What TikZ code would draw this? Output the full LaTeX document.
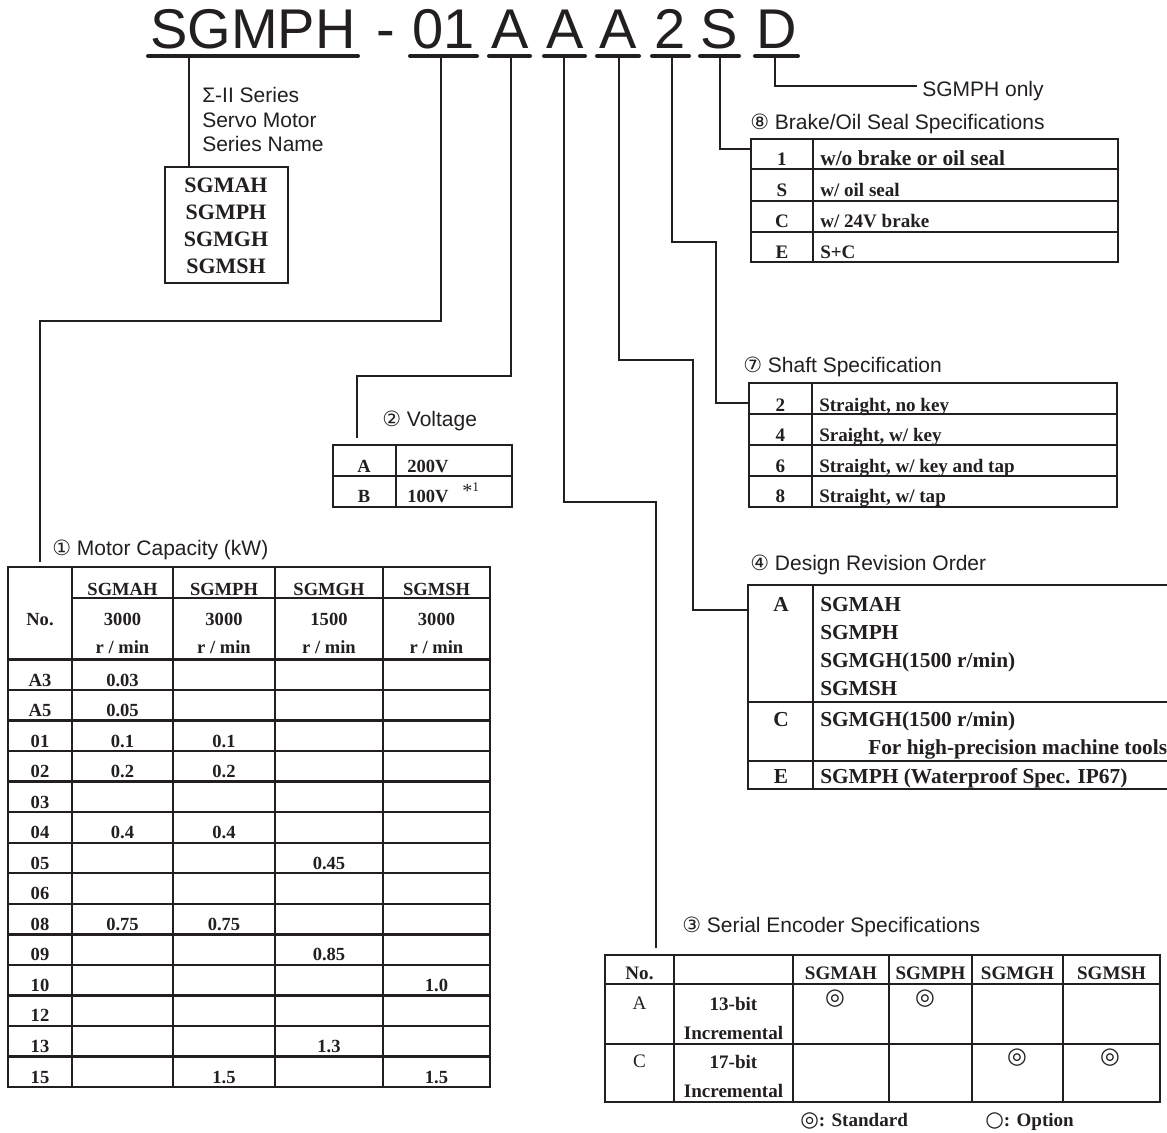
\documentclass[tikz,border=0pt]{standalone}
\usepackage{fontspec}
\setmainfont{Liberation Serif}
\newfontfamily\sansf{Liberation Sans}
\newfontfamily\symf{DejaVu Sans}
\definecolor{ink}{RGB}{35,31,32}
\begin{document}
\begin{tikzpicture}[x=0.75pt, y=-0.75pt, color=ink,
  tab/.style={line width=1.8pt},
  conn/.style={line width=0.9pt},
  bar/.style={line width=3pt, line cap=round},
  ttl/.style={anchor=west, inner sep=0pt, font=\sansf\fontsize{15.75}{18}\selectfont},
  cell/.style={anchor=base, inner sep=0pt, font=\bfseries\fontsize{13.9}{16}\selectfont},
  cellw/.style={cell, anchor=base west}]
\fill[white] (0,0) rectangle (1167,1132);
\useasboundingbox (0,0) rectangle (1167,1132);

% model code
\foreach \t/\x [count=\i] in {SGMPH/253, -/386, 01/444, A/510, A/565, A/618, 2/670, S/719, D/777}
  \node[anchor=base, inner sep=0pt, font=\sansf\fontsize{42}{42}\selectfont] (code\i) at (\x,48) {\t};
\foreach \a/\b in {148/358, 410/477, 489/530, 544/585, 597/639, 652/689, 700/739, 755/798}
  \draw[bar] (\a,56) -- (\b,56);
\foreach \n/\x in {ser/189, cap/441, vol/511, enc/564, rev/619, sha/672, brk/720, opt/775}
  \coordinate (k\n) at (\x,56);

% series name
\foreach \t [count=\i] in {Σ-II Series, Servo Motor, Series Name}
  \node[ttl, anchor=base west] (sl\i) at (202,{78+24.5*\i}) {\t};
\coordinate (sbox) at (189,167);
\draw[conn] (kser) -- (sbox);
\draw[tab] (165,167) rectangle (288,283);
\foreach \t [count=\i] in {SGMAH,SGMPH,SGMGH,SGMSH}
  \node[cell, font=\bfseries\fontsize{16.5}{18}\selectfont] (sb\i) at (226,{165+27*\i}) {\t};

% 1 motor capacity
\coordinate (mcap) at (40,562);
\draw[conn] (kcap) -- ++(0,265) -| (mcap);
\node[ttl] (mttl) at (52,550) {{\symf ①} Motor Capacity (kW)};
\draw[tab] (8,567) rectangle (490,1087);
\foreach \x in {72,173,275,383} \draw[tab] (\x,567) -- (\x,1087);
\draw[tab] (72,598) -- (490,598);
\foreach \k in {0,...,13} \draw[tab] (8,{659.5+30.54*\k}) -- (490,{659.5+30.54*\k});
\node[cell] (mno) at (40,625) {No.};
\foreach \t/\v/\x [count=\i] in {SGMAH/3000/122.5, SGMPH/3000/224, SGMGH/1500/329, SGMSH/3000/436.5}{
  \node[cell] (mh\i) at (\x,595) {\t};
  \node[cell] (ms\i) at (\x,625) {\v};
  \node[cell] (mu\i) at (\x,653) {r / min};
}
\foreach \t [count=\i] in {A3,A5,01,02,03,04,05,06,08,09,10,12,13,15}
  \node[cell] (mr\i) at (40,{655.5+30.54*\i}) {\t};
\foreach \c/\i/\v in {1/1/0.03, 1/2/0.05, 1/3/0.1, 2/3/0.1, 1/4/0.2, 2/4/0.2, 1/6/0.4, 2/6/0.4,
    3/7/0.45, 1/9/0.75, 2/9/0.75, 3/10/0.85, 4/11/1.0, 3/13/1.3, 2/14/1.5, 4/14/1.5}{
  \pgfmathsetmacro\x{{122.5,224,329,436.5}[\c-1]}
  \node[cell] (mv\c-\i) at (\x,{655.5+30.54*\i}) {\v};
}

% 2 voltage
\coordinate (vol) at (357,438);
\draw[conn] (kvol) -- ++(0,320) -| (vol);
\node[ttl] (vttl) at (382,421) {{\symf ②} Voltage};
\draw[tab] (333,445) rectangle (512,507);
\draw[tab] (333,476) -- (512,476) (396,445) -- (396,507);
\node[cell] (va) at (364,472) {A};
\node[cellw] (vaa) at (407,472) {200V};
\node[cell] (vb) at (364,502) {B};
\node[cellw] (vbb) at (407,502) {100V};
\node[anchor=base west, inner sep=0pt] (vnote) at (462,497)
  {{\fontsize{15}{15}\selectfont *}{\fontsize{10}{10}\selectfont\raisebox{4pt}{1}}};

% 3 serial encoder
\coordinate (enc) at (656,948);
\draw[conn] (kenc) -- ++(0,446) -| (enc);
\node[ttl] (ettl) at (682,927) {{\symf ③} Serial Encoder Specifications};
\draw[tab] (605,955) rectangle (1160,1102);
\foreach \x in {674,793,889,972,1063} \draw[tab] (\x,955) -- (\x,1102);
\draw[tab] (605,984) -- (1160,984) (605,1044) -- (1160,1044);
\foreach \t/\x [count=\i] in {No./639.5, SGMAH/841, SGMPH/930.5, SGMGH/1017.5, SGMSH/1111.5}
  \node[cell, font=\bfseries\fontsize{14.3}{16}\selectfont] (eh\i) at (\x,979) {\t};
\foreach \k/\b/\y [count=\i] in {A/13/1009, C/17/1067}{
  \node[cell, font=\fontsize{14.3}{16}\selectfont] (ek\i) at (639.5,\y) {\k};
  \node[cell, font=\bfseries\fontsize{14.3}{16}\selectfont] (eb\i) at (733.5,\y+1) {\b-bit};
  \node[cell, font=\bfseries\fontsize{14.3}{16}\selectfont] (ei\i) at (733.5,\y+30) {Incremental};
}
\foreach \x/\y [count=\i] in {835/999, 925/999, 1017/1058, 1110/1058}
  \node[inner sep=0pt, font=\symf\fontsize{17}{17}\selectfont] (es\i) at (\x,\y) {◎};
\node[anchor=base west, inner sep=0pt] (lstd) at (800,1126)
  {{\symf\fontsize{16}{16}\selectfont ◎}\textbf{\fontsize{14.3}{16}\selectfont : Standard}};
\node[anchor=base west, inner sep=0pt] (lopt) at (985,1126)
  {{\symf\fontsize{16}{16}\selectfont ○}\textbf{\fontsize{14.3}{16}\selectfont : Option}};

% 4 design revision
\coordinate (rev) at (748,610);
\draw[conn] (krev) |- (693,360) |- (rev);
\node[ttl] (rttl) at (750,565) {{\symf ④} Design Revision Order};
\draw[tab] (1180,585) -- (748,585) -- (748,789) -- (1180,789);
\draw[tab] (748,702) -- (1180,702) (748,761) -- (1180,761) (813,585) -- (813,789);
\tikzset{cell/.append style={font=\bfseries\fontsize{16}{18}\selectfont}}
\node[cell] (ra) at (781,611) {A};
\foreach \t [count=\i] in {SGMAH,SGMPH,SGMGH(1500 r/min),SGMSH}
  \node[cellw] (ra\i) at (820,{583+28*\i}) {\t};
\node[cell] (rc) at (781,726) {C};
\node[cellw] (rc1) at (820,726) {SGMGH(1500 r/min)};
\node[cellw] (rc2) at (868,754) {For high-precision machine tools};
\node[cell] (re) at (781,783) {E};
\node[cellw] (re1) at (820,783) {SGMPH (Waterproof Spec. IP67)};

% 7 shaft
\coordinate (sha) at (749,403);
\draw[conn] (ksha) |- (716,242) |- (sha);
\node[ttl] (httl) at (743,367) {{\symf ⑦} Shaft Specification};
\draw[tab] (749,383) rectangle (1117,507);
\foreach \y in {414,445,476} \draw[tab] (749,\y) -- (1117,\y);
\draw[tab] (812,383) -- (812,507);
\tikzset{cell/.append style={font=\bfseries\fontsize{14.3}{16}\selectfont}}
\foreach \k [count=\i] in {2,4,6,8}
  \node[cell] (hk\i) at (780.5,{380.5+30.5*\i}) {\k};
\foreach \t [count=\i] in {{Straight, no key},{Sraight, w/ key},{Straight, w/ key and tap},{Straight, w/ tap}}
  \node[cellw] (ht\i) at (819,{380.5+30.5*\i}) {\t};

% 8 brake / oil seal
\coordinate (brk) at (751,149);
\draw[conn] (kbrk) |- (brk);
\node[ttl] (bttl) at (750,124) {{\symf ⑧} Brake/Oil Seal Specifications};
\draw[tab] (751,139) rectangle (1118,262);
\foreach \y in {169,201,232} \draw[tab] (751,\y) -- (1118,\y);
\draw[tab] (813,139) -- (813,262);
\foreach \k/\y [count=\i] in {1/165,S/196.5,C/227,E/258}
  \node[cell] (bk\i) at (782,\y) {\k};
\node[cellw, font=\bfseries\fontsize{16.1}{18}\selectfont] (bt1) at (820,165) {w/o brake or oil seal};
\node[cellw] (bt2) at (820,196.5) {w/ oil seal};
\node[cellw] (bt3) at (820,227) {w/ 24V brake};
\node[cellw] (bt4) at (820,258) {S+C};

% D
\coordinate (opt) at (917,86);
\draw[conn] (kopt) |- (opt);
\node[ttl] (only) at (922,91) {SGMPH only};
\end{tikzpicture}
\end{document}
